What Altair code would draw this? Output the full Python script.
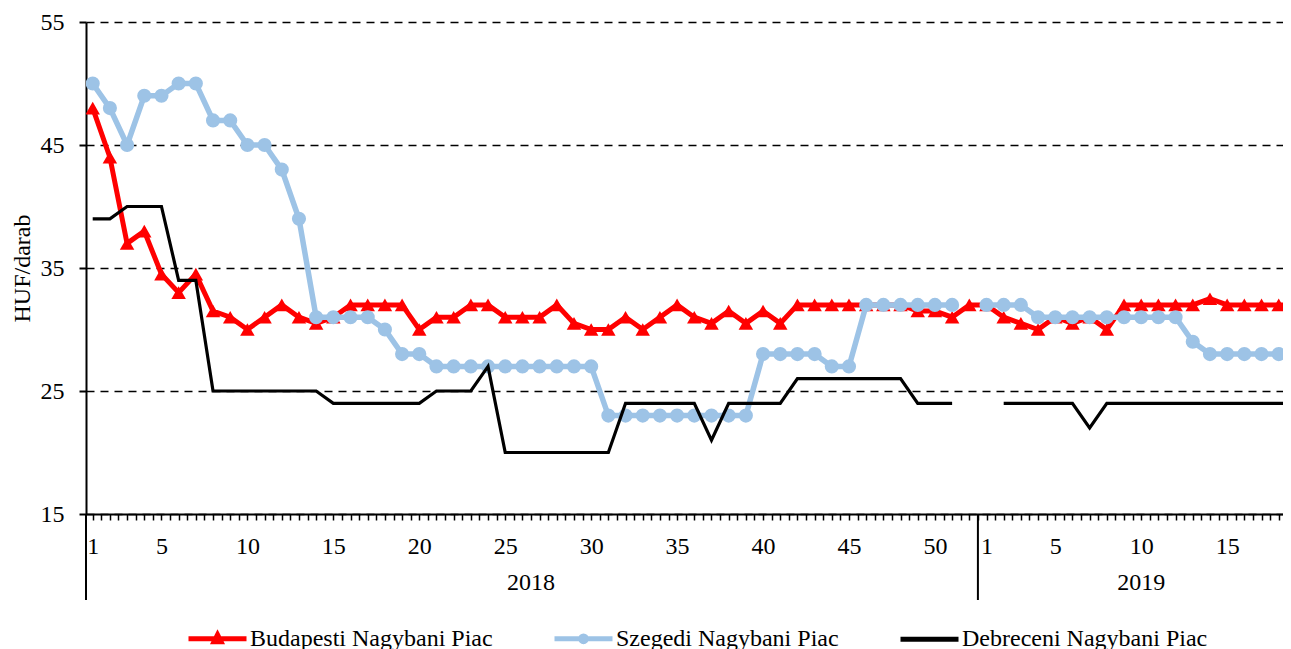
import altair as alt
import pandas as pd

# ---------------- data ----------------
years = ["2018", "2019"]
weeks_2018 = list(range(1, 53))
weeks_2019 = list(range(1, 20))

series_names = ["Budapesti Nagybani Piac", "Szegedi Nagybani Piac", "Debreceni Nagybani Piac"]
series_colors = ["#FF0000", "#9DC3E6", "#000000"]

budapest_2018 = [48, 44, 37, 38, 34.5, 33, 34.5, 31.5, 31, 30,
                 31, 32, 31, 30.5, 31, 32, 32, 32, 32, 30,
                 31, 31, 32, 32, 31, 31, 31, 32, 30.5, 30,
                 30, 31, 30, 31, 32, 31, 30.5, 31.5, 30.5, 31.5,
                 30.5, 32, 32, 32, 32, 32, 32, 32, 31.5, 31.5,
                 31, 32]
budapest_2019 = [32, 31, 30.5, 30, 31, 30.5, 31, 30, 32, 32,
                 32, 32, 32, 32.5, 32, 32, 32, 32, 32]

szeged_2018 = [50, 48, 45, 49, 49, 50, 50, 47, 47, 45,
               45, 43, 39, 31, 31, 31, 31, 30, 28, 28,
               27, 27, 27, 27, 27, 27, 27, 27, 27, 27,
               23, 23, 23, 23, 23, 23, 23, 23, 23, 28,
               28, 28, 28, 27, 27, 32, 32, 32, 32, 32,
               32, None]
szeged_2019 = [32, 32, 32, 31, 31, 31, 31, 31, 31, 31,
               31, 31, 29, 28, 28, 28, 28, 28, 28]

debrecen_2018 = [39, 39, 40, 40, 40, 34, 34, 25, 25, 25,
                 25, 25, 25, 25, 24, 24, 24, 24, 24, 24,
                 25, 25, 25, 27, 20, 20, 20, 20, 20, 20,
                 20, 24, 24, 24, 24, 24, 21, 24, 24, 24,
                 24, 26, 26, 26, 26, 26, 26, 26, 24, 24,
                 24, None]
debrecen_2019 = [None, 24, 24, 24, 24, 24, 22, 24, 24, 24,
                 24, 24, 24, 24, 24, 24, 24, 24, 24]

x_label_weeks_2018 = [1, 5, 10, 15, 20, 25, 30, 35, 40, 45, 50]
x_label_weeks_2019 = [1, 5, 10, 15]
y_ticks = [15, 25, 35, 45, 55]
y_title = "HUF/darab"

# ---------------- table ----------------
n18 = len(weeks_2018)
n19 = len(weeks_2019)
rows = []
for name, v18, v19 in zip(series_names,
                          [budapest_2018, szeged_2018, debrecen_2018],
                          [budapest_2019, szeged_2019, debrecen_2019]):
    seg = 0
    vals = [("2018", w, i, v) for i, (w, v) in enumerate(zip(weeks_2018, v18))] + \
           [("2019", w, n18 + i, v) for i, (w, v) in enumerate(zip(weeks_2019, v19))]
    for yr, w, idx, v in vals:
        if v is None:
            seg += 1
            continue
        rows.append({"series": name, "year": yr, "week": w, "idx": idx, "value": v, "seg": seg})
df = pd.DataFrame(rows)

year_df = pd.DataFrame({
    "year": years,
    "idx": [(n18 - 1) / 2, n18 + (n19 - 1) / 2],
})

X_MIN = -0.39
X_MAX = 69.25          # the picture is cut off just before 2019 week 19
sep_df = pd.DataFrame({"idx": [X_MIN, n18 - 0.5]})

label_idx = [w - 1 for w in x_label_weeks_2018] + [n18 + w - 1 for w in x_label_weeks_2019]
label_expr = (f"indexof({label_idx}, datum.value) >= 0 ? "
              f"(datum.value < {n18} ? datum.value + 1 : datum.value - {n18 - 1}) : ''")
tick_vals = [i / 2 for i in range(0, 2 * (n18 + n19)) if i / 2 <= X_MAX]

FONT = "Liberation Serif"

x_scale = alt.Scale(domain=[X_MIN, X_MAX], nice=False, zero=False)
y_scale = alt.Scale(domain=[15, 55], nice=False, zero=False)

x_enc = alt.X("idx:Q", scale=x_scale,
              axis=alt.Axis(values=tick_vals, labelExpr=label_expr, title=None, grid=False,
                            tickSize=6, tickWidth=1.5, tickColor="black",
                            domainColor="black", domainWidth=2,
                            labelPadding=14, labelFont=FONT, labelFontSize=24,
                            labelColor="black", labelOverlap=False, labelFlush=False))
y_enc = alt.Y("value:Q", scale=y_scale,
              axis=alt.Axis(values=y_ticks, title=y_title, grid=True,
                            gridDash=[8, 6], gridColor="black", gridWidth=1.5, gridOpacity=1,
                            tickSize=7, tickWidth=2, tickColor="black",
                            domainColor="black", domainWidth=2,
                            labelPadding=15, labelFont=FONT, labelFontSize=24, labelColor="black",
                            titlePadding=6, titleFont=FONT, titleFontSize=24,
                            titleFontWeight="normal", titleColor="black"))

base = alt.Chart(df)


def only(name):
    return base.transform_filter(alt.datum.series == name)


red_line = only(series_names[0]).mark_line(strokeWidth=5, color=series_colors[0], clip=True).encode(
    x=x_enc, y=y_enc, detail="seg:N", order="idx:Q")
red_pts = only(series_names[0]).mark_point(shape="triangle-up", filled=True, size=210, opacity=1,
                                           color=series_colors[0], clip=True).encode(x=x_enc, y=y_enc)
blue_line = only(series_names[1]).mark_line(strokeWidth=5.5, color=series_colors[1], clip=True).encode(
    x=x_enc, y=y_enc, detail="seg:N", order="idx:Q")
blue_pts = only(series_names[1]).mark_point(shape="circle", filled=True, size=200, opacity=1,
                                            color=series_colors[1], clip=True).encode(x=x_enc, y=y_enc)
black_line = only(series_names[2]).mark_line(strokeWidth=3.2, color=series_colors[2], clip=True).encode(
    x=x_enc, y=y_enc, detail="seg:N", order="idx:Q")

# legend (custom line+marker symbols, drawn as strokes)
legend_paths = [
    "M-1,0H1M0,-0.14L0.12,0.1L-0.12,0.1Z",
    "M-1,0H1M0.1,0A0.1,0.1,0,1,1,-0.1,0A0.1,0.1,0,1,1,0.1,0Z",
    "M-1,0H1",
]
leg = alt.Legend(title=None, orient="none", legendX=100, legendY=585, direction="horizontal",
                 columns=3, columnPadding=51, padding=0, labelOffset=1,
                 symbolSize=3364, symbolStrokeWidth=5, symbolOpacity=1,
                 labelFont=FONT, labelFontSize=24,
                 labelColor="black", labelLimit=500)
legend_layer = base.transform_filter("false").mark_point(filled=False, opacity=1).encode(
    x=x_enc, y=y_enc,
    color=alt.Color("series:N", scale=alt.Scale(domain=series_names, range=series_colors), legend=leg),
    shape=alt.Shape("series:N", scale=alt.Scale(domain=series_names, range=legend_paths), legend=leg),
)

years_layer = alt.Chart(year_df).mark_text(font=FONT, fontSize=24, color="black",
                                           align="center", baseline="middle").encode(
    x=x_enc, y=alt.value(561), text="year:N")

sep_layer = alt.Chart(sep_df).mark_rule(color="black", strokeWidth=2).encode(
    x=x_enc, y=alt.value(492), y2=alt.value(578))

chart = alt.layer(
    sep_layer, red_line, red_pts, blue_line, blue_pts, black_line, years_layer, legend_layer
).properties(
    width=1197, height=492,
    autosize=alt.AutoSizeParams(type="none"),
    padding={"left": 78, "top": 14, "right": 0, "bottom": 150},
).configure(font=FONT).configure_view(strokeWidth=0)

chart.save("out.html", embed_options={"renderer": "svg", "actions": False})
